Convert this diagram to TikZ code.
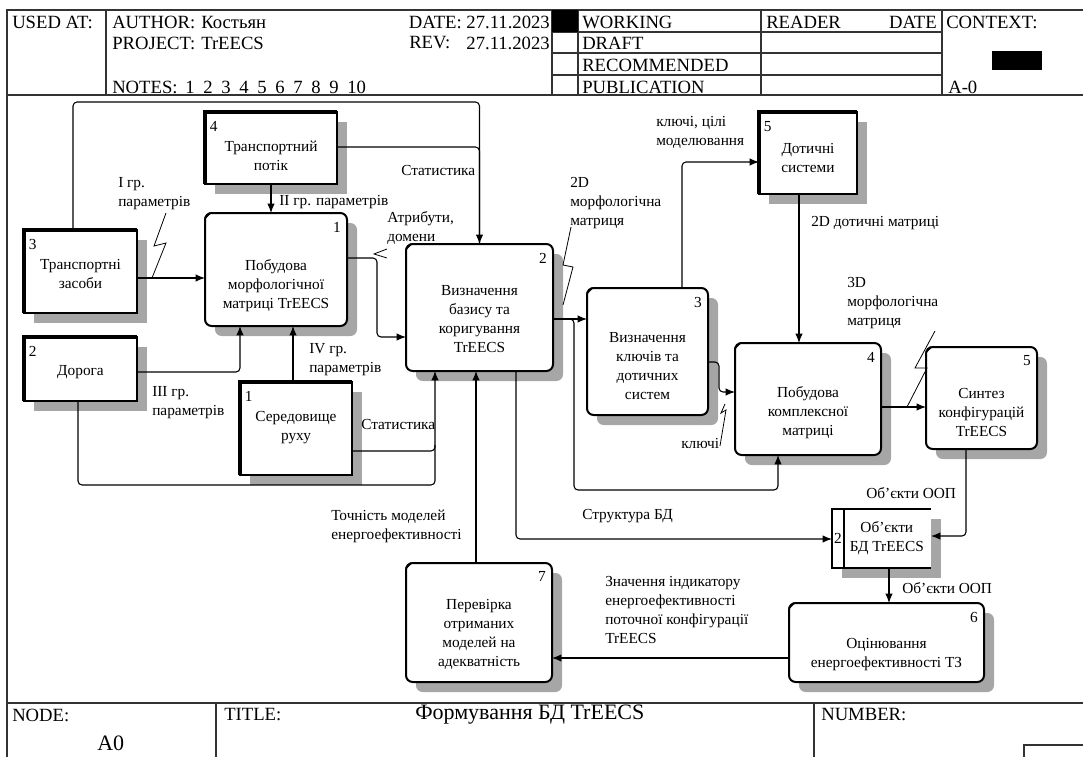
\documentclass[tikz,border=0pt]{standalone}
\usepackage{fontspec}
\setmainfont{Liberation Serif}
\usetikzlibrary{arrows.meta, shadows}

\newlength\pxu
\setlength\pxu{0.75pt}
\newcommand\bodyfont{\fontsize{11.5}{14.25}\selectfont}
\newcommand\hdrfont{\fontsize{14}{16}\selectfont}
\newcommand\ttlfont{\fontsize{16.5}{19}\selectfont}

\tikzset{
  flow/.style={line width=0.8pt, -{Latex[length=7pt,width=5.5pt]}, rounded corners=3pt},
  wire/.style={line width=0.8pt, rounded corners=3pt},
  squig/.style={line width=0.6pt},
  boxshadow/.style={drop shadow={shadow xshift=7.5pt, shadow yshift=-7.5pt, fill=black!35, opacity=1}},
  proc/.style={draw, line width=1.5pt, rounded corners=5pt, fill=white, boxshadow, inner sep=0pt, outer sep=0pt},
  extb/.style={draw, line width=1.5pt, fill=white, boxshadow, inner sep=0pt, outer sep=0pt},
  sz/.style 2 args={minimum width=#1\pxu, minimum height=#2\pxu},
  txt/.style={font=\bodyfont, align=center, inner sep=0pt},
  lbl/.style={font=\bodyfont, align=left, inner sep=0pt, anchor=north west},
  pnum/.style={font=\bodyfont, inner sep=0pt, anchor=north east, xshift=-4.5pt, yshift=-6.5pt},
  enum/.style={font=\bodyfont, inner sep=0pt, anchor=north west, xshift=3.5pt, yshift=-7pt},
  hdr/.style={font=\hdrfont, inner sep=0pt, anchor=west},
  hline/.style={line width=1pt, draw=black!80},
}

\begin{document}
\begin{tikzpicture}[x=0.75pt, y=-0.75pt]
\useasboundingbox (0,0) rectangle (1083,757);

% frame and header
\draw[hline] (7,757) -- (7,10) -- (1083,10);
\draw[hline] (7,95) -- (1083,95);
\draw[hline] (7,703) -- (1083,703);
\foreach \xx in {106,552,578,761,942}
  \draw[hline] (\xx,10) -- (\xx,95);
\foreach \yy in {32,53,75}
  \draw[hline] (552,\yy) -- (942,\yy);
\draw[hline] (216,703) -- (216,757);
\draw[hline] (814,703) -- (814,757);
\draw[hline] (1024,757) -- (1024,745) -- (1083,745);
\fill (552,10) rectangle (578,32);
\fill (992,51) rectangle (1042,70);

\node[hdr] (usedat) at (12,22) {USED AT:};
\node[hdr] (author) at (112,22) {AUTHOR:};
\node[hdr] (authorv) at (201,22) {Костьян};
\node[hdr] (project) at (112,43) {PROJECT:};
\node[hdr] (projectv) at (201,43) {TrEECS};
\node[hdr, anchor=east] (date) at (550,22) {DATE: 27.11.2023};
\node[hdr] (rev) at (409,43) {REV:};
\node[hdr, anchor=east] (revv) at (550,43) {27.11.2023};
\node[hdr] (notes) at (112,87) {NOTES:};
\foreach \i in {1,...,10}
  \node[hdr] (note\i) at (167+18*\i,87) {\i};
\node[hdr] (working) at (582,22) {WORKING};
\node[hdr] (draft) at (582,43) {DRAFT};
\node[hdr] (recomm) at (582,65) {RECOMMENDED};
\node[hdr] (publ) at (582,87) {PUBLICATION};
\node[hdr] (reader) at (766,22) {READER};
\node[hdr, anchor=east] (rdate) at (937,22) {DATE};
\node[hdr] (context) at (946,22) {CONTEXT:};
\node[hdr] (ctxnum) at (948,87) {A-0};

% footer
\node[hdr] (nodelbl) at (12,715) {NODE:};
\node[hdr, font=\ttlfont] (nodenum) at (97,743) {A0};
\node[hdr] (titlelbl) at (224,715) {TITLE:};
\node[hdr, font=\ttlfont] (title) at (415,715) {Формування БД TrEECS};
\node[hdr] (numlbl) at (821,715) {NUMBER:};

% external boxes
\node[extb, sz={132}{72}, label={[enum]north west:4}] (tp) at (271,148) {};
\node[extb, sz={113}{83}, label={[enum]north west:3}] (tz) at (80.5,271.5) {};
\node[extb, sz={113}{64}, label={[enum]north west:2}] (dor) at (80.5,369) {};
\node[extb, sz={112}{93}, label={[enum]north west:1}] (ser) at (296,428.5) {};
\node[extb, sz={98}{82}, label={[enum]north west:5}] (dot) at (808,153) {};
\foreach \b in {tp,tz,dor,ser,dot}
  \draw[line width=3pt] (\b.south west) -- (\b.north west) -- (\b.north east);

% activities
\node[proc, sz={142}{113}, label={[pnum]north east:1}] (a1) at (276,269.5) {};
\node[proc, sz={147}{127}, label={[pnum]north east:2}] (a2) at (479.5,307.5) {};
\node[proc, sz={121}{127}, label={[pnum]north east:3}] (a3) at (647.5,351.5) {};
\node[proc, sz={146}{112}, label={[pnum]north east:4}] (a4) at (808,399) {};
\node[proc, sz={111}{102}, label={[pnum]north east:5}] (a5) at (981.5,398) {};
\node[proc, sz={195}{79}, label={[pnum]north east:6}] (a6) at (886.5,642.5) {};
\node[proc, sz={146}{119}, label={[pnum]north east:7}] (a7) at (479,622.5) {};
\foreach \b in {a1,a2,a3,a4,a5,a6,a7}
  \draw[line width=1.2pt] ([yshift=-4pt]\b.north west) -- ([xshift=4pt]\b.north west);

% data store
\node[fill=white, boxshadow, inner sep=0pt, outer sep=0pt, sz={99}{59}] (bd) at (881.5,538.5) {};
\draw[line width=1.5pt] (bd.north east) -- (bd.north west) -- (bd.south west) -- (bd.south east);
\draw[line width=1.5pt] ([xshift=9pt]bd.north west) -- ([xshift=9pt]bd.south west);

% box texts
\node[txt] (tp-t) at ([yshift=-6pt]tp.center) {Транспортний\\потік};
\node[txt] (tz-t) at ([yshift=-2pt]tz.center) {Транспортні\\засоби};
\node[txt] (dor-t) at ([yshift=-2pt]dor.center) {Дорога};
\node[txt] (ser-t) at ([yshift=1pt]ser.center) {Середовище\\руху};
\node[txt] (dot-t) at ([yshift=-4pt]dot.center) {Дотичні\\системи};
\node[txt] (a1-t) at ([yshift=-12pt]a1.center) {Побудова\\морфологічної\\матриці TrEECS};
\node[txt] (a2-t) at ([yshift=-9pt]a2.center) {Визначення\\базису та\\коригування\\TrEECS};
\node[txt] (a3-t) at ([yshift=-11pt]a3.center) {Визначення\\ключів та\\дотичних\\систем};
\node[txt] (a4-t) at ([yshift=-10.5pt]a4.center) {Побудова\\комплексної\\матриці};
\node[txt] (a5-t) at ([yshift=-10.5pt]a5.center) {Синтез\\конфігурацій\\TrEECS};
\node[txt] (a6-t) at ([yshift=-9pt]a6.center) {Оцінювання\\енергоефективності ТЗ};
\node[txt] (a7-t) at ([yshift=-9pt]a7.center) {Перевірка\\отриманих\\моделей на\\адекватність};
\node[txt] (bd-n) at ([xshift=4.5pt]bd.west) {2};
\node[txt] (bd-t) at ([xshift=4pt]bd.center) {Об'єкти\\БД TrEECS};

% connectors
\draw[flow] (tz.east |- 0,278) -- (a1.west |- 0,278);
\draw[flow] (tz.north -| 73,0) |- (a2.north |- 0,102) -- (a2.north);
\draw[wire] (tp.east |- 0,147) -| (a2.north);
\draw[flow] (tp.south) -- (tp.south |- a1.north);
\draw[flow] (a1.east |- 0,258) -| (377,337) -- (a2.west |- 0,337);
\draw[flow] (dor.east |- 0,372) -| (a1.south -| 240,0);
\draw[flow] (ser.north -| 293,0) -- (a1.south -| 293,0);
\draw[flow] (ser.east |- 0,451) -| (a2.south -| 435,0);
\draw[wire] (dor.south -| 78,0) |- (435,485) -- (435,445);
\draw[flow] (a7.north -| 476,0) -- (a2.south -| 476,0);
\draw[flow] (a2.east |- 0,319) -- (a3.west |- 0,319);
\draw[flow] (a2.east |- 0,319) -| (574,490) -| (a4.south -| 778,0);
\draw[flow] (a3.north -| 682,0) |- (dot.west |- 0,162);
\draw[flow] (dot.south -| 799,0) -- (a4.north -| 799,0);
\draw[flow] (a3.east |- 0,362) -| (719,392) -- (a4.west |- 0,392);
\draw[flow] (a4.east |- 0,407) -- (a5.west |- 0,407);
\draw[flow] (a5.south -| 966,0) |- (bd.east |- 0,536);
\draw[flow] (a2.south -| 516,0) |- (bd.west |- 0,539);
\draw[flow] (bd.south -| 889,0) -- (a6.north -| 889,0);
\draw[flow] (a6.west |- 0,658) -- (a7.east |- 0,658);

% squiggles
\draw[squig] (166,213) -- (154,246) -- (166,243) -- (152,278);
\draw[squig] (387,249) -- (374,254) -- (387,258);
\draw[squig] (571,227) -- (563,265) -- (573,267) -- (563,305);
\draw[squig] (935,331) -- (915,368) -- (927,368) -- (907,407);
\draw[squig] (725,404) -- (721,413) -- (726,410) -- (720,446);

% arrow labels
\node[lbl] (l-gr1) at (118,177) {І гр.\\параметрів};
\node[lbl] (l-gr2) at (279,195) {ІІ гр. параметрів};
\node[lbl] (l-attr) at (387,211) {Атрибути,\\домени};
\node[lbl] (l-stat1) at (401,165) {Статистика};
\node[lbl] (l-gr3) at (152,386) {ІІІ гр.\\параметрів};
\node[lbl] (l-gr4) at (309,343) {IV гр.\\параметрів};
\node[lbl] (l-stat2) at (361,419) {Статистика};
\node[lbl] (l-m2d) at (570,177) {2D\\морфологічна\\матриця};
\node[lbl] (l-keys) at (656,116) {ключі, цілі\\моделювання};
\node[lbl] (l-dot2d) at (811,216) {2D дотичні матриці};
\node[lbl] (l-m3d) at (847,277) {3D\\морфологічна\\матриця};
\node[lbl] (l-key) at (681,438) {ключі};
\node[lbl] (l-oop1) at (866,487) {Об'єкти ООП};
\node[lbl] (l-struct) at (582,509) {Структура БД};
\node[lbl] (l-acc) at (331,510) {Точність моделей\\енергоефективності};
\node[lbl] (l-oop2) at (902,582) {Об'єкти ООП};
\node[lbl] (l-ind) at (605,576) {Значення індикатору\\енергоефективності\\поточної конфігурації\\TrEECS};
\end{tikzpicture}
\end{document}
